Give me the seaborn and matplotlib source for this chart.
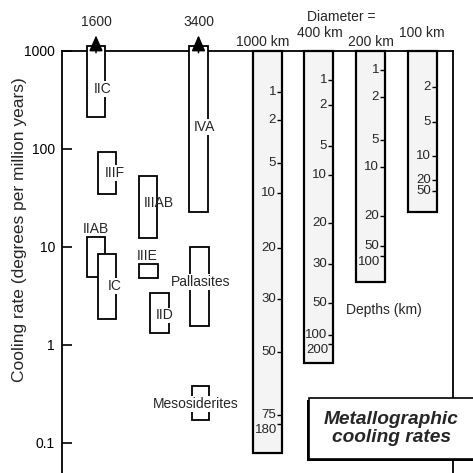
import matplotlib
matplotlib.use("Agg")
import matplotlib.pyplot as plt
import matplotlib.patches as mpatches
from matplotlib.ticker import NullLocator
import seaborn as sns

# ---- data -------------------------------------------------------------
# Meteorite groups: range of metallographic cooling rates (deg / Myr)
groups = ["IIC", "IVA", "IIIF", "IIIAB", "IIAB", "IC", "IIIE", "IID",
          "Pallasites", "Mesosiderites"]
rate_low = [210, 23, 35, 12.3, 4.9, 1.85, 4.8, 1.33, 1.56, 0.17]
rate_high = [1600, 3400, 93, 53, 12.6, 8.5, 6.7, 3.4, 10, 0.38]

# Asteroid models: cooling rate range from surface to centre
diameters = ["1000 km", "400 km", "200 km", "100 km"]
column_high = [1000, 1000, 1000, 1000]
column_low = [0.079, 0.66, 4.4, 23]

# Depth scale (km) along each asteroid column and the matching rates
depth_labels = [
    ["1", "2", "5", "10", "20", "30", "50", "75", "180"],
    ["1", "2", "5", "10", "20", "30", "50", "100", "200"],
    ["1", "2", "5", "10", "20", "50", "100"],
    ["2", "5", "10", "20", "50"],
]
depth_rates = [
    [382, 198, 72, 35.6, 9.8, 2.95, 0.85, 0.193, 0.158],
    [506, 281, 107, 54, 17.6, 6.7, 2.68, 1.26, 1.03],
    [640, 340, 124, 65, 20.7, 10.2, 8.1],
    [430, 189, 85, 48, 37],
]
# the deepest label of a column hangs below its tick
depth_hanging = [
    [False] * 8 + [True],
    [False] * 8 + [True],
    [False] * 6 + [True],
    [False] * 5,
]

ytick_values = [0.1, 1, 10, 100, 1000]
ytick_labels = ["0.1", "1", "10", "100", "1000"]

# ---- layout -------------------------------------------------------------
group_left = [25, 127, 36, 77, 25, 36, 77, 88, 128, 130]
group_width = [18, 19, 18, 18, 18, 18, 19, 19, 19, 17]
group_label_xy = [(40.5, 410), (142.5, 168), (53, 57), (97, 28.2),
                  (34, 15.3), (53, 4.0), (85.5, 8.1), (103, 2.0),
                  (138.5, 4.4), (134, 0.25)]
group_label_bg = [True, True, True, False, False, True, False, True,
                  True, True]
display_cap = 1130          # off-scale groups are cut here with an arrow
arrow_tip = 1540

column_left = [191, 242, 294, 346]
column_width = 29
column_label_xy = [(201, 1235), (257.5, 1527), (309, 1235), (359.5, 1527)]

sns.set_theme(style="white")
plt.rcParams["font.family"] = ["Liberation Sans", "DejaVu Sans"]

W = H = 473
fig = plt.figure(figsize=(W / 100, H / 100), dpi=100)
ax = fig.add_axes([62 / W, 0, 391 / W, 422 / H])
ax.set_yscale("log")
ax.set_ylim(0.0494, 1000)
ax.set_xlim(0, 391)
ax.set_facecolor("white")

# axes frame: left, top and right only
for side in ["left", "top", "right"]:
    ax.spines[side].set_visible(True)
    ax.spines[side].set_linewidth(1.3)
    ax.spines[side].set_color("black")
ax.spines["bottom"].set_visible(False)
ax.set_xticks([])
ax.set_yticks(ytick_values)
ax.set_yticklabels(ytick_labels)
ax.yaxis.set_minor_locator(NullLocator())
ax.tick_params(axis="y", direction="in", length=7, width=1.2, pad=5,
               labelsize=10, left=True, colors="black")

# asteroid columns (lightly stippled)
for i, name in enumerate(diameters):
    ax.bar(column_left[i], column_high[i] - column_low[i],
           bottom=column_low[i], width=column_width, align="edge",
           facecolor="#f4f4f4", edgecolor="black", linewidth=1.6,
           zorder=3, clip_on=False)
    right = column_left[i] + column_width
    for lab, r, hang in zip(depth_labels[i], depth_rates[i],
                            depth_hanging[i]):
        ax.plot([right - 5, right], [r, r], color="black", lw=1.0,
                zorder=4, solid_capstyle="butt")
        if hang:
            ax.text(right - 5, r, lab, ha="right", va="top",
                    fontsize=9.5, zorder=4)
        else:
            ax.text(right - 6, r, lab, ha="right", va="center",
                    fontsize=9.5, zorder=4)
    cx, cy = column_label_xy[i]
    ax.text(cx, cy, name, ha="center", va="center", fontsize=10,
            clip_on=False)
ax.text(257.5 + 22, 2222, "Diameter =", ha="center", va="center",
        fontsize=10, clip_on=False)
ax.text(322, 2.27, "Depths (km)", ha="center", va="center", fontsize=10)

# meteorite groups
for i, g in enumerate(groups):
    top = min(rate_high[i], display_cap)
    ax.bar(group_left[i], top - rate_low[i], bottom=rate_low[i],
           width=group_width[i], align="edge", facecolor="white",
           edgecolor="black", linewidth=1.3, zorder=5 + i, clip_on=False)
    lx, ly = group_label_xy[i]
    bbox = dict(facecolor="white", edgecolor="none", pad=0.6) \
        if group_label_bg[i] else None
    ax.text(lx, ly, g, ha="center", va="center", fontsize=10,
            zorder=20, bbox=bbox)
    if rate_high[i] > display_cap:
        cx = group_left[i] + group_width[i] / 2
        ax.annotate("", xy=(cx, arrow_tip), xytext=(cx, 900),
                    arrowprops=dict(arrowstyle="-|>,head_width=0.35,head_length=0.8",
                                    color="black", lw=1.1),
                    annotation_clip=False, zorder=21)
        ax.text(cx, 1680, f"{rate_high[i]}", ha="center", va="bottom",
                fontsize=10, clip_on=False)

fig.text(20 / W, 1 - 230 / H, "Cooling rate (degrees per million years)",
         rotation=90, ha="center", va="center", fontsize=12.5)

# title box with a drop shadow on the left and bottom
bx, by, bw, bh = 309 / W, 1 - 459 / H, 0.5, 61 / H
fig.add_artist(mpatches.Rectangle((bx - 2 / W, by - 2 / H), bw, bh,
                                  transform=fig.transFigure,
                                  facecolor="black", edgecolor="none",
                                  zorder=30))
fig.add_artist(mpatches.Rectangle((bx, by), bw, bh,
                                  transform=fig.transFigure,
                                  facecolor="white", edgecolor="black",
                                  linewidth=1.2, zorder=31))
fig.text(391 / W, 1 - 428.5 / H, "Metallographic\ncooling rates",
         ha="center", va="center", fontsize=13.8, fontweight="bold",
         fontstyle="italic", linespacing=1.05, zorder=32)

fig.savefig("out.png", dpi=100)
